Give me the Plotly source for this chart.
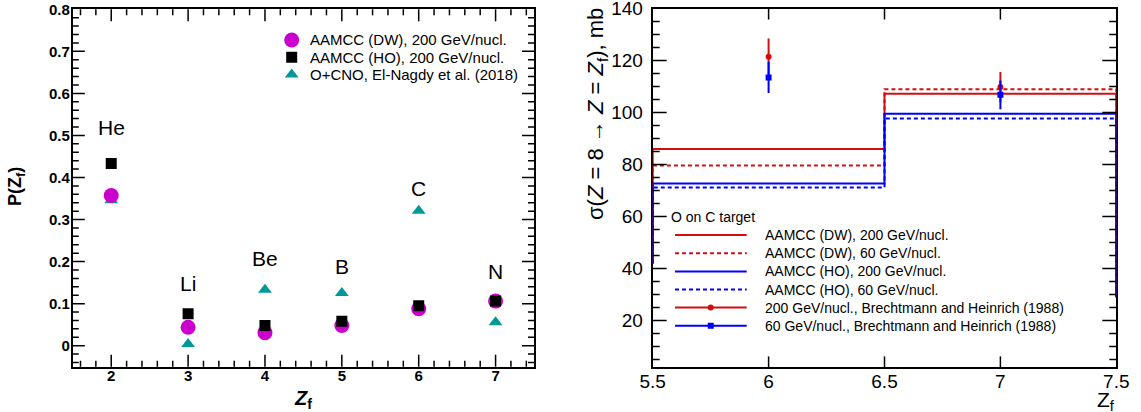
import plotly.graph_objects as go

W, H = 1141, 412
FONT = "Liberation Sans, Arial, Helvetica, sans-serif"

# ---------------- Left panel data ----------------
z_frag = [2, 3, 4, 5, 6, 7]
elements = ["He", "Li", "Be", "B", "C", "N"]
label_y = [0.519, 0.149, 0.208, 0.188, 0.375, 0.176]
p_dw = [0.357, 0.044, 0.031, 0.048, 0.088, 0.106]
p_ho = [0.433, 0.076, 0.048, 0.058, 0.095, 0.106]
p_nagdy = [0.346, 0.004, 0.133, 0.125, 0.321, 0.056]
left_legend = ["AAMCC (DW), 200 GeV/nucl.", "AAMCC (HO), 200 GeV/nucl.",
               "O+CNO, El-Nagdy et al. (2018)"]

# ---------------- Right panel data ----------------
zf_bins = [6, 7]
sig_dw200 = [86.0, 107.2]
sig_dw60 = [79.6, 109.0]
sig_ho200 = [72.7, 99.5]
sig_ho60 = [71.2, 97.7]
edge_drop_left = 42.0   # where the drawn outer bin edges end in the picture
edge_drop_right = 29.0
bh200 = [121.5, 109.8]
bh200_err = [7.0, 5.8]
bh60 = [113.5, 106.8]
bh60_err = [6.0, 5.5]
right_legend = ["AAMCC (DW), 200 GeV/nucl.", "AAMCC (DW), 60 GeV/nucl.",
                "AAMCC (HO), 200 GeV/nucl.", "AAMCC (HO), 60 GeV/nucl.",
                "200 GeV/nucl., Brechtmann and Heinrich (1988)",
                "60 GeV/nucl., Brechtmann and Heinrich (1988)"]

MAGENTA = "#cc00cc"
TEAL = "#009999"
RED = "#d01010"
BLUE = "#0000ff"
DASH = "4px,3px"

L_X0, L_X1, L_Y0, L_Y1 = 72.8, 534.0, 9.3, 366.7
L_XR, L_YR = [1.5, 7.5], [-0.05, 0.8]
R_X0, R_X1, R_Y0, R_Y1 = 652.7, 1116.3, 8.5, 367.4
R_XR, R_YR = [5.5, 7.5], [2, 140.01]


def px2data(xp, yp, box, xr, yr):
    x0, x1, y0, y1 = box
    x = xr[0] + (xp - x0) / (x1 - x0) * (xr[1] - xr[0])
    y = yr[1] - (yp - y0) / (y1 - y0) * (yr[1] - yr[0])
    return x, y


def left_px(xp, yp):
    return px2data(xp, yp, (L_X0, L_X1, L_Y0, L_Y1), L_XR, L_YR)


def right_px(xp, yp):
    return px2data(xp, yp, (R_X0, R_X1, R_Y0, R_Y1), R_XR, R_YR)


fig = go.Figure()

fig.add_trace(go.Scatter(x=z_frag, y=p_nagdy, mode="markers", xaxis="x", yaxis="y",
                         marker=dict(symbol="triangle-up", size=12, color=TEAL), showlegend=False))
fig.add_trace(go.Scatter(x=z_frag, y=p_dw, mode="markers", xaxis="x", yaxis="y",
                         marker=dict(symbol="circle", size=15, color=MAGENTA), showlegend=False))
fig.add_trace(go.Scatter(x=z_frag, y=p_ho, mode="markers", xaxis="x", yaxis="y",
                         marker=dict(symbol="square", size=11, color="black"), showlegend=False))


def step(vals, lo, hi):
    edges = [b - 0.5 for b in zf_bins] + [zf_bins[-1] + 0.5]
    xs, ys = [edges[0]], [lo]
    for i, v in enumerate(vals):
        xs += [edges[i], edges[i + 1]]
        ys += [v, v]
    xs.append(edges[-1])
    ys.append(hi)
    return xs, ys


hists = [(sig_dw200, RED, "solid"), (sig_dw60, RED, DASH),
         (sig_ho200, BLUE, "solid"), (sig_ho60, BLUE, DASH)]
for vals, col, dash in hists:
    xs, ys = step(vals, edge_drop_left, edge_drop_right)
    fig.add_trace(go.Scatter(x=xs, y=ys, mode="lines", xaxis="x2", yaxis="y2",
                             line=dict(color=col, width=2, dash=dash), showlegend=False))

fig.add_trace(go.Scatter(x=zf_bins, y=bh200, mode="markers", xaxis="x2", yaxis="y2",
                         error_y=dict(type="data", array=bh200_err, color=RED, thickness=2, width=0),
                         marker=dict(symbol="circle", size=6, color=RED), showlegend=False))
fig.add_trace(go.Scatter(x=zf_bins, y=bh60, mode="markers", xaxis="x2", yaxis="y2",
                         error_y=dict(type="data", array=bh60_err, color=BLUE, thickness=2, width=0),
                         marker=dict(symbol="square", size=6, color=BLUE), showlegend=False))

leg_l_x, leg_l_text_x = 291.7, 308
leg_l_rows = [40, 57.2, 74.5]
leg_l_syms = [("circle", 15, MAGENTA), ("square", 11, "black"), ("triangle-up", 12, TEAL)]
for (sym, sz, col), yy in zip(leg_l_syms, leg_l_rows):
    xd, yd = left_px(leg_l_x, yy)
    fig.add_trace(go.Scatter(x=[xd], y=[yd], mode="markers", xaxis="x", yaxis="y",
                             marker=dict(symbol=sym, size=sz, color=col), showlegend=False))

leg_r_x0, leg_r_x1, leg_r_mx, leg_r_text_x = 675, 746.7, 710.7, 762.7
leg_r_rows = [235, 253.2, 271.4, 289.5, 307.6, 325.7]
leg_r_styles = [(RED, "solid", None), (RED, DASH, None), (BLUE, "solid", None),
                (BLUE, DASH, None), (RED, "solid", "circle"), (BLUE, "solid", "square")]
for (col, dash, sym), yy in zip(leg_r_styles, leg_r_rows):
    xa, ya = right_px(leg_r_x0, yy)
    xb, _ = right_px(leg_r_x1, yy)
    fig.add_trace(go.Scatter(x=[xa, xb], y=[ya, ya], mode="lines", xaxis="x2", yaxis="y2",
                             line=dict(color=col, width=2, dash=dash), showlegend=False))
    if sym:
        xm, _ = right_px(leg_r_mx, yy)
        fig.add_trace(go.Scatter(x=[xm], y=[ya], mode="markers", xaxis="x2", yaxis="y2",
                                 marker=dict(symbol=sym, size=6, color=col), showlegend=False))


def pap(xp, yp):
    return xp / W, 1 - yp / H


annotations = []
for el, zz, yy in zip(elements, z_frag, label_y):
    annotations.append(dict(x=zz, y=yy, xref="x", yref="y", text=el, showarrow=False,
                            font=dict(family=FONT, size=21, color="black")))
for txt, yy in zip(left_legend, leg_l_rows):
    px_, py_ = pap(leg_l_text_x, yy)
    annotations.append(dict(x=px_, y=py_, xref="paper", yref="paper", text=txt, showarrow=False,
                            xanchor="left", yanchor="middle",
                            font=dict(family=FONT, size=15, color="black")))
px_, py_ = pap(669, 217.3)
annotations.append(dict(x=px_, y=py_, xref="paper", yref="paper", text="O on C target", showarrow=False,
                        xanchor="left", yanchor="middle", font=dict(family=FONT, size=14, color="black")))
for txt, yy in zip(right_legend, leg_r_rows):
    px_, py_ = pap(leg_r_text_x, yy)
    annotations.append(dict(x=px_, y=py_, xref="paper", yref="paper", text=txt, showarrow=False,
                            xanchor="left", yanchor="middle",
                            font=dict(family=FONT, size=14, color="black")))
for txt, xp, yp, ang, sz, xanc in [
    ("<b>P(Z<sub>f</sub>)</b>", 16, 187, -90, 18, "center"),
    ("<b><i>Z</i><sub>f</sub></b>", 303, 399, 0, 20, "center"),
    ("σ(<i>Z</i> = 8 → <i>Z</i> = <i>Z</i><sub>f</sub>), mb", 597, 114, -90, 22, "center"),
    ("Z<sub>f</sub>", 1117, 401, 0, 21, "right"),
]:
    px_, py_ = pap(xp, yp)
    annotations.append(dict(x=px_, y=py_, xref="paper", yref="paper", text=txt, showarrow=False,
                            textangle=ang, xanchor=xanc, yanchor="middle",
                            font=dict(family=FONT, size=sz, color="black")))

# ---------------- tick marks drawn inside the frame on all four sides ----------------
TICK_W = 1.5
shapes = []


def x_ticks(xref, ydom, vals, length):
    for v in vals:
        for anchor, sign in ((0, 1), (1, -1)):
            shapes.append(dict(type="line", xref=xref, yref=ydom, x0=v, x1=v,
                               ysizemode="pixel", yanchor=anchor, y0=0, y1=sign * length,
                               line=dict(color="black", width=TICK_W), layer="above"))


def y_ticks(yref, xdom, vals, length):
    for v in vals:
        for anchor, sign in ((0, 1), (1, -1)):
            shapes.append(dict(type="line", xref=xdom, yref=yref, y0=v, y1=v,
                               xsizemode="pixel", xanchor=anchor, x0=0, x1=sign * length,
                               line=dict(color="black", width=TICK_W), layer="above"))


def grid_vals(lo, hi, step):
    n = int(round((hi - lo) / step))
    return [round(lo + i * step, 6) for i in range(n + 1)]


def is_multiple(v, step):
    return abs(v / step - round(v / step)) < 1e-6


x_ticks("x", "y domain", grid_vals(2, 7, 1), 12)
x_ticks("x", "y domain", [v for v in grid_vals(1.6, 7.4, 0.2) if not is_multiple(v, 1)], 6)
y_ticks("y", "x domain", grid_vals(0, 0.7, 0.1), 12)
y_ticks("y", "x domain", [v for v in grid_vals(-0.04, 0.78, 0.02) if not is_multiple(v, 0.1)], 6)
x_ticks("x2", "y2 domain", grid_vals(6, 7, 0.5), 11)
y_ticks("y2", "x2 domain", grid_vals(20, 120, 20), 14)
y_ticks("y2", "x2 domain", [v for v in grid_vals(5, 135, 5) if not is_multiple(v, 20)], 7)

base = dict(showgrid=False, zeroline=False, showline=True, linecolor="black", linewidth=2,
            mirror=True, ticks="", ticklabeloverflow="allow")

fig.update_layout(
    template="none",
    width=W, height=H, autosize=False,
    margin=dict(l=0, r=0, t=0, b=0, pad=0),
    paper_bgcolor="white", plot_bgcolor="white",
    showlegend=False,
    xaxis=dict(domain=[L_X0 / W, L_X1 / W], range=L_XR, anchor="y", dtick=1, tick0=0,
               ticklabelstandoff=-6,
               tickfont=dict(family=FONT, size=15, color="black", weight="bold"), **base),
    yaxis=dict(domain=[1 - L_Y1 / H, 1 - L_Y0 / H], range=L_YR, anchor="x", dtick=0.1, tick0=0,
               ticklabelstandoff=-2,
               tickfont=dict(family=FONT, size=15, color="black", weight="bold"), **base),
    xaxis2=dict(domain=[R_X0 / W, R_X1 / W], range=R_XR, anchor="y2", dtick=0.5, tick0=0,
                ticklabelstandoff=-4,
                tickfont=dict(family=FONT, size=19, color="black"), **base),
    yaxis2=dict(domain=[1 - R_Y1 / H, 1 - R_Y0 / H], range=R_YR, anchor="x2", dtick=20, tick0=0,
                layer="below traces", ticklabelstandoff=4,
                tickfont=dict(family=FONT, size=19, color="black"), **base),
    annotations=annotations,
    shapes=shapes,
)

fig.write_html("out.html", config={"displayModeBar": False},
               post_script="document.body.style.margin='0';")
